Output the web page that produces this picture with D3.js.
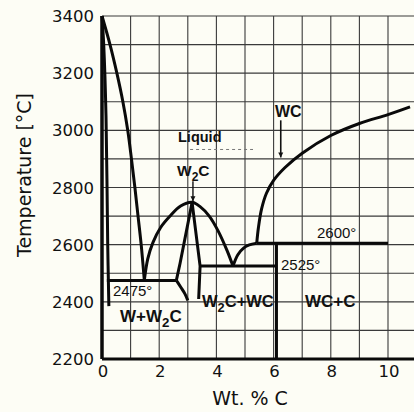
<!DOCTYPE html>
<html><head><meta charset="utf-8">
<script src="https://cdn.jsdelivr.net/npm/d3@7"></script>
<style>html,body{margin:0;padding:0;background:#fdfdf5;} svg{display:block}</style>
</head><body>
<script>
// ---- tick labels / grid ----
const xTickVals = [0, 2, 4, 6, 8, 10];
const yTickVals = [2200, 2400, 2600, 2800, 3000, 3200, 3400];
const xGridVals = [0, 1, 2, 3, 4, 5, 6, 7, 8, 9, 10, 11];
const yGridVals = [2200, 2300, 2400, 2500, 2600, 2700, 2800, 2900, 3000, 3100, 3200, 3300, 3400];

// ---- phase boundaries (wt.% C, °C) ----
const wSolidus = [[0,3400],[0.06,3300],[0.14,3050],[0.2,2600],[0.24,2385]];
const liquidusW = [[0,3400],[0.28,3300],[0.52,3200],[0.73,3100],[0.9,3000],[1.03,2900],[1.15,2800],[1.26,2700],[1.37,2600],[1.48,2475]];
const w2cDome = [[1.48,2475],[1.6,2550],[1.78,2607],[2.05,2660],[2.38,2700],[2.75,2735],[3.15,2748],[3.43,2733],[3.75,2700],[4.05,2650],[4.37,2580],[4.58,2525]];
const w2cLeft = [[3.15,2748],[2.73,2535],[2.6,2475]];
const w2cLowerLeft = [[2.6,2475],[2.75,2452],[2.9,2428],[3.0,2405]];
const w2cRight = [[3.15,2748],[3.43,2525],[3.38,2410]];
const eutecticArc = [[4.58,2525],[4.75,2565],[4.95,2588],[5.15,2599],[5.41,2605]];
const liquidusWC = [[5.41,2605],[5.47,2660],[5.58,2725],[5.75,2780],[6.0,2825],[6.4,2870],[7.0,2920],[8.0,2982],[9.0,3024],[10.0,3055],[10.77,3082]];
const iso2475 = [[0.17,2475],[2.6,2475]];
const iso2525 = [[3.43,2525],[6.1,2525]];
const iso2600 = [[5.41,2605],[10,2605]];
const wcLine = [[6.1,2605],[6.1,2200]];
const frameLeft = [[0,2200],[0,3400]];
const frameBottom = [[0,2200],[11,2200]];

// ---- annotations ----
const liquidDash = [[3.08,2933],[5.28,2933]];
const w2cArrow = [[3.18,2822],[3.18,2752]];
const wcArrow = [[6.25,3035],[6.25,2905]];

const W = 414, H = 412;
const x = d3.scaleLinear().domain([0, 11]).range([102, 416.6]);
const y = d3.scaleLinear().domain([2200, 3400]).range([359, 16]);

const svg = d3.select("body").append("svg").attr("width", W).attr("height", H);
svg.append("rect").attr("width", W).attr("height", H).attr("fill", "#fdfdf5");

const defs = svg.append("defs");
defs.append("marker").attr("id","arr").attr("viewBox","0 0 10 10").attr("refX",10).attr("refY",5)
  .attr("markerWidth",5).attr("markerHeight",7).attr("orient","auto").attr("markerUnits","userSpaceOnUse")
  .append("path").attr("d","M0,0 L10,5 L0,10 Z").attr("fill","#111");

// grid
const g = svg.append("g");
g.selectAll(".vg").data(xGridVals).join("line")
  .attr("x1", d => x(d)).attr("x2", d => x(d)).attr("y1", y(3400)).attr("y2", y(2200))
  .attr("stroke", "#3a3a3a").attr("stroke-width", 1.1);
g.selectAll(".hg").data(yGridVals).join("line")
  .attr("x1", x(0)).attr("x2", W).attr("y1", d => y(d)).attr("y2", d => y(d))
  .attr("stroke", "#3a3a3a").attr("stroke-width", 1.1);

// tick labels
svg.selectAll(".yl").data(yTickVals).join("text")
  .attr("x", 94).attr("y", d => y(d) + 6).attr("text-anchor", "end")
  .attr("font-family", "DejaVu Sans").attr("font-size", 16.5).attr("fill", "#111").text(d => d);
svg.selectAll(".xl").data(xTickVals).join("text")
  .attr("x", d => x(d) + 1).attr("y", 377).attr("text-anchor", "middle")
  .attr("font-family", "DejaVu Sans").attr("font-size", 16.5).attr("fill", "#111").text(d => d);

// axis titles
svg.append("text").attr("x", 250).attr("y", 405).attr("text-anchor", "middle")
  .attr("font-family", "DejaVu Sans").attr("font-size", 19).attr("fill", "#111").text("Wt. % C");
svg.append("text").attr("transform", "translate(31,175) rotate(-90)").attr("text-anchor", "middle")
  .attr("font-family", "DejaVu Sans").attr("font-size", 19).attr("fill", "#111").text("Temperature [°C]");

// phase lines
const lineLin = d3.line().x(d => x(d[0])).y(d => y(d[1]));
const lineSm = d3.line().x(d => x(d[0])).y(d => y(d[1])).curve(d3.curveCatmullRom.alpha(0.5));
const ph = svg.append("g").attr("fill", "none").attr("stroke", "#0a0a0a").attr("stroke-linecap", "butt").attr("stroke-linejoin", "round");
[[frameLeft, 3.5, lineLin],[frameBottom, 3.2, lineLin],
 [wSolidus, 3, lineSm],[liquidusW, 3, lineSm],[w2cDome, 3, lineSm],
 [w2cLeft, 3, lineLin],[w2cLowerLeft, 3, lineSm],[w2cRight, 3, lineLin],
 [eutecticArc, 3, lineSm],[liquidusWC, 3, lineSm],
 [iso2475, 3, lineLin],[iso2525, 3, lineLin],[iso2600, 3, lineLin],[wcLine, 3, lineLin]
].forEach(([d, w, gen]) => ph.append("path").attr("d", gen(d)).attr("stroke-width", w));

// annotations
svg.append("path").attr("d", lineLin(liquidDash)).attr("stroke", "#777").attr("stroke-width", 1)
  .attr("stroke-dasharray", "3,3").attr("fill", "none");
svg.append("path").attr("d", lineLin(w2cArrow)).attr("stroke", "#111").attr("stroke-width", 1.4).attr("marker-end", "url(#arr)");
svg.append("path").attr("d", lineLin(wcArrow)).attr("stroke", "#111").attr("stroke-width", 1.6).attr("marker-end", "url(#arr)");

function label(px, py, parts, size, weight) {
  const t = svg.append("text").attr("x", px).attr("y", py)
    .attr("font-family", "Liberation Sans, Arial, sans-serif").attr("font-size", size)
    .attr("font-weight", weight).attr("fill", "#111");
  let shifted = false;
  parts.forEach(p => {
    if (p.sub) {
      t.append("tspan").attr("dy", size * 0.3).attr("font-size", size * 0.78).text(p.s);
      shifted = true;
    } else {
      const ts = t.append("tspan").text(p.s);
      if (shifted) { ts.attr("dy", -size * 0.3); shifted = false; }
    }
  });
}
label(178, 142, [{s:"Liquid"}], 14.5, "bold");
label(177, 176, [{s:"W"},{s:"2",sub:true},{s:"C"}], 15.5, "bold");
label(275, 117, [{s:"WC"}], 16, "bold");
label(113, 296, [{s:"2475°"}], 15, "normal");
label(120, 322, [{s:"W+W"},{s:"2",sub:true},{s:"C"}], 17, "bold");
label(202, 307, [{s:"W"},{s:"2",sub:true},{s:"C+WC"}], 16.5, "bold");
label(305, 307, [{s:"WC+C"}], 17, "bold");
label(281, 270, [{s:"2525°"}], 15, "normal");
label(317, 238, [{s:"2600°"}], 15, "normal");
</script>
</body></html>
